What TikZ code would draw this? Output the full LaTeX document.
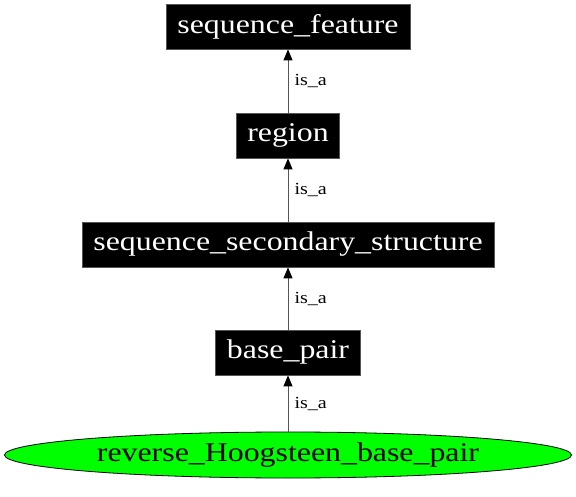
\documentclass[tikz,border=0pt]{standalone}
\usepackage{fontspec}
\newfontfamily\graphfont[FakeStretch=1.18]{Liberation Serif}
\usepackage{xcolor}
\usepackage{tikz}
\usetikzlibrary{shapes.geometric, arrows.meta}
\definecolor{leafcolor}{HTML}{00ff00}
\definecolor{edgecolor}{HTML}{555555}

\begin{document}
\begin{tikzpicture}[x=1pt, y=-1pt,
  termbox/.style={draw=edgecolor, line width=0.8pt, fill=black, text=white, rectangle, minimum height=45pt, inner sep=0pt, font=\graphfont\fontsize{27pt}{32pt}\selectfont},
  leafterm/.style={draw=black, line width=0.8pt, fill=leafcolor, ellipse, minimum width=567pt, minimum height=46pt, inner sep=0pt, font=\graphfont\fontsize{27pt}{32pt}\selectfont},
  isa/.style={draw=edgecolor, line width=1pt, -{Triangle[length=11pt, width=9pt, black]}},
  isalabel/.style={right, inner sep=0pt, xshift=6pt, font=\graphfont\fontsize{17pt}{20pt}\selectfont}]%
\useasboundingbox (0,0) rectangle (576,497);%
\node[termbox, minimum width=244pt] (seqfeature) at (288, 26.5) {sequence\_feature};%
\node[termbox, minimum width=103pt] (region) at (288, 135.5) {region};%
\node[termbox, minimum width=412pt] (secstructure) at (288, 244.5) {sequence\_secondary\_structure};%
\node[termbox, minimum width=145pt] (basepair) at (288, 352.5) {base\_pair};%
\node[leafterm] (hoogsteen) at (288, 455) {reverse\_Hoogsteen\_base\_pair};%
\draw[isa] (region) -- node[isalabel] {is\_a} (seqfeature);%
\draw[isa] (secstructure) -- node[isalabel] {is\_a} (region);%
\draw[isa] (basepair) -- node[isalabel] {is\_a} (secstructure);%
\draw[isa] (hoogsteen) -- node[isalabel] {is\_a} (basepair);%
\end{tikzpicture}
\end{document}
